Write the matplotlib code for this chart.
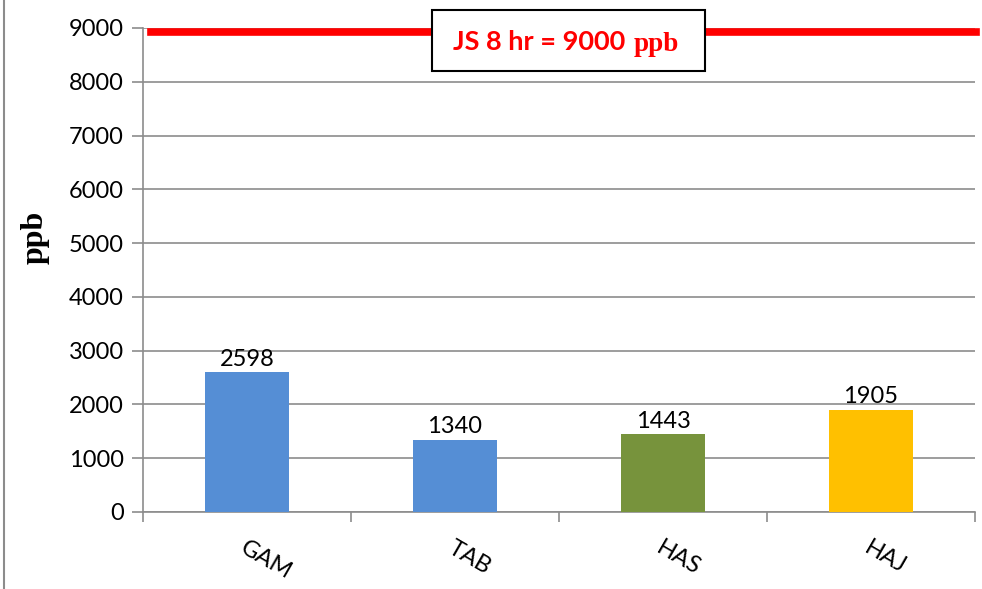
import matplotlib
matplotlib.use("Agg")
import matplotlib.pyplot as plt
from matplotlib.patches import Rectangle
from matplotlib.lines import Line2D

# datos
estaciones = ["GAM", "TAB", "HAS", "HAJ"]
valores = [2598, 1340, 1443, 1905]
colores = ["#558ED5", "#558ED5", "#77933C", "#FFC000"]
limite_dibujado = 8930  # la línea roja del límite (9000) queda un poco por debajo
yticks = list(range(0, 10000, 1000))

plt.rcParams["font.family"] = ["Lato", "DejaVu Sans"]

fig = plt.figure(figsize=(9.82, 5.89), dpi=100)
ax = fig.add_axes([143 / 982, 1 - 512 / 589, 832 / 982, 484 / 589])

x = list(range(len(estaciones)))
ax.bar(x, valores, width=0.4, color=colores, zorder=3)
for xi, v in zip(x, valores):
    ax.text(xi, v + 50, str(v), ha="center", va="bottom", fontsize=17, color="black")

ax.axhline(limite_dibujado, xmin=0.01, xmax=1.001, color="#FF0000", linewidth=5.5,
           zorder=4, clip_on=False)

ax.set_xlim(-0.5, 3.5)
ax.set_ylim(0, 9000)
ax.set_yticks(yticks)
ax.set_yticklabels([str(t) for t in yticks], fontsize=17)
ax.grid(axis="y", color="#8C8C8C", linewidth=1.2, zorder=0)

ax.set_xticks(x)
ax.set_xticklabels(estaciones, fontsize=17, rotation=-30, ha="left",
                   rotation_mode="anchor")
ax.tick_params(axis="x", length=0, pad=18)
ax.set_xticks([-0.5, 0.5, 1.5, 2.5, 3.5], minor=True)
ax.tick_params(axis="x", which="minor", length=7, color="#8C8C8C", width=1.2)
ax.tick_params(axis="y", length=8, color="#8C8C8C", width=1.2, pad=6)

for s in ["top", "right"]:
    ax.spines[s].set_visible(False)
for s in ["left", "bottom"]:
    ax.spines[s].set_color("#8C8C8C")
    ax.spines[s].set_linewidth(1.2)

ax.set_ylabel("ppb", fontsize=23, fontweight="bold", family="Liberation Serif")
ax.yaxis.set_label_coords(-0.112, 0.568)

# recuadro del límite
fig.patches.append(Rectangle((432 / 982, 1 - 71 / 589), 273 / 982, 61 / 589,
                             transform=fig.transFigure, facecolor="white",
                             edgecolor="black", linewidth=1.5, zorder=5))
t1 = fig.text(453 / 982, 1 - 50 / 589, "JS 8 hr = 9000", color="#FF0000", fontsize=19.5,
              fontweight="bold", ha="left", va="baseline", zorder=6)
fig.add_artist(plt.Annotation("ppb", xy=(1, 0), xycoords=t1, xytext=(6, -2.5),
                              textcoords="offset points", color="#FF0000",
                              fontsize=19.5, fontweight="bold",
                              family="Liberation Serif", ha="left", va="bottom",
                              zorder=6))

# borde izquierdo del área del gráfico
fig.add_artist(Line2D([3.5 / 982, 3.5 / 982], [0, 1], color="#8C8C8C", linewidth=1.5))

fig.savefig("out.png", dpi=100)
